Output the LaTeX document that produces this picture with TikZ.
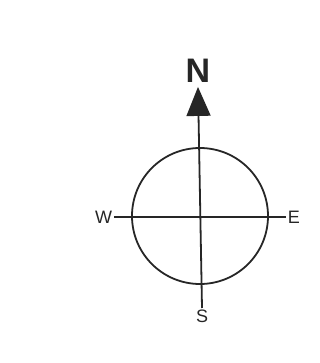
\documentclass[tikz,border=0pt]{standalone}
\usepackage{fontspec}
\setmainfont{Liberation Sans}
\usetikzlibrary{arrows.meta}

\begin{document}
\begin{tikzpicture}[x=1pt, y=-1pt, line width=1.8pt, draw=black!85,
    dir/.style={font=\fontsize{18}{18}\selectfont, inner sep=1pt, text=black!85}]
    \useasboundingbox (0, 0) rectangle (320, 363);
    \coordinate (c) at (200, 216);
    \draw (c) circle (68);
    \node[font=\bfseries\fontsize{34}{34}\selectfont, text=black!85] (n) at (198, 71) {N};
    \node[dir, anchor=east] (w) at (114, 217) {W};
    \node[dir, anchor=west] (e) at (286, 217) {E};
    \node[dir, anchor=north] (s) at (202, 308) {S};
    \draw[-{Triangle[width=24pt, length=29pt]}] (s.north) -- (n.south);
    \draw (w.east) -- (e.west);
  \end{tikzpicture}
\end{document}
